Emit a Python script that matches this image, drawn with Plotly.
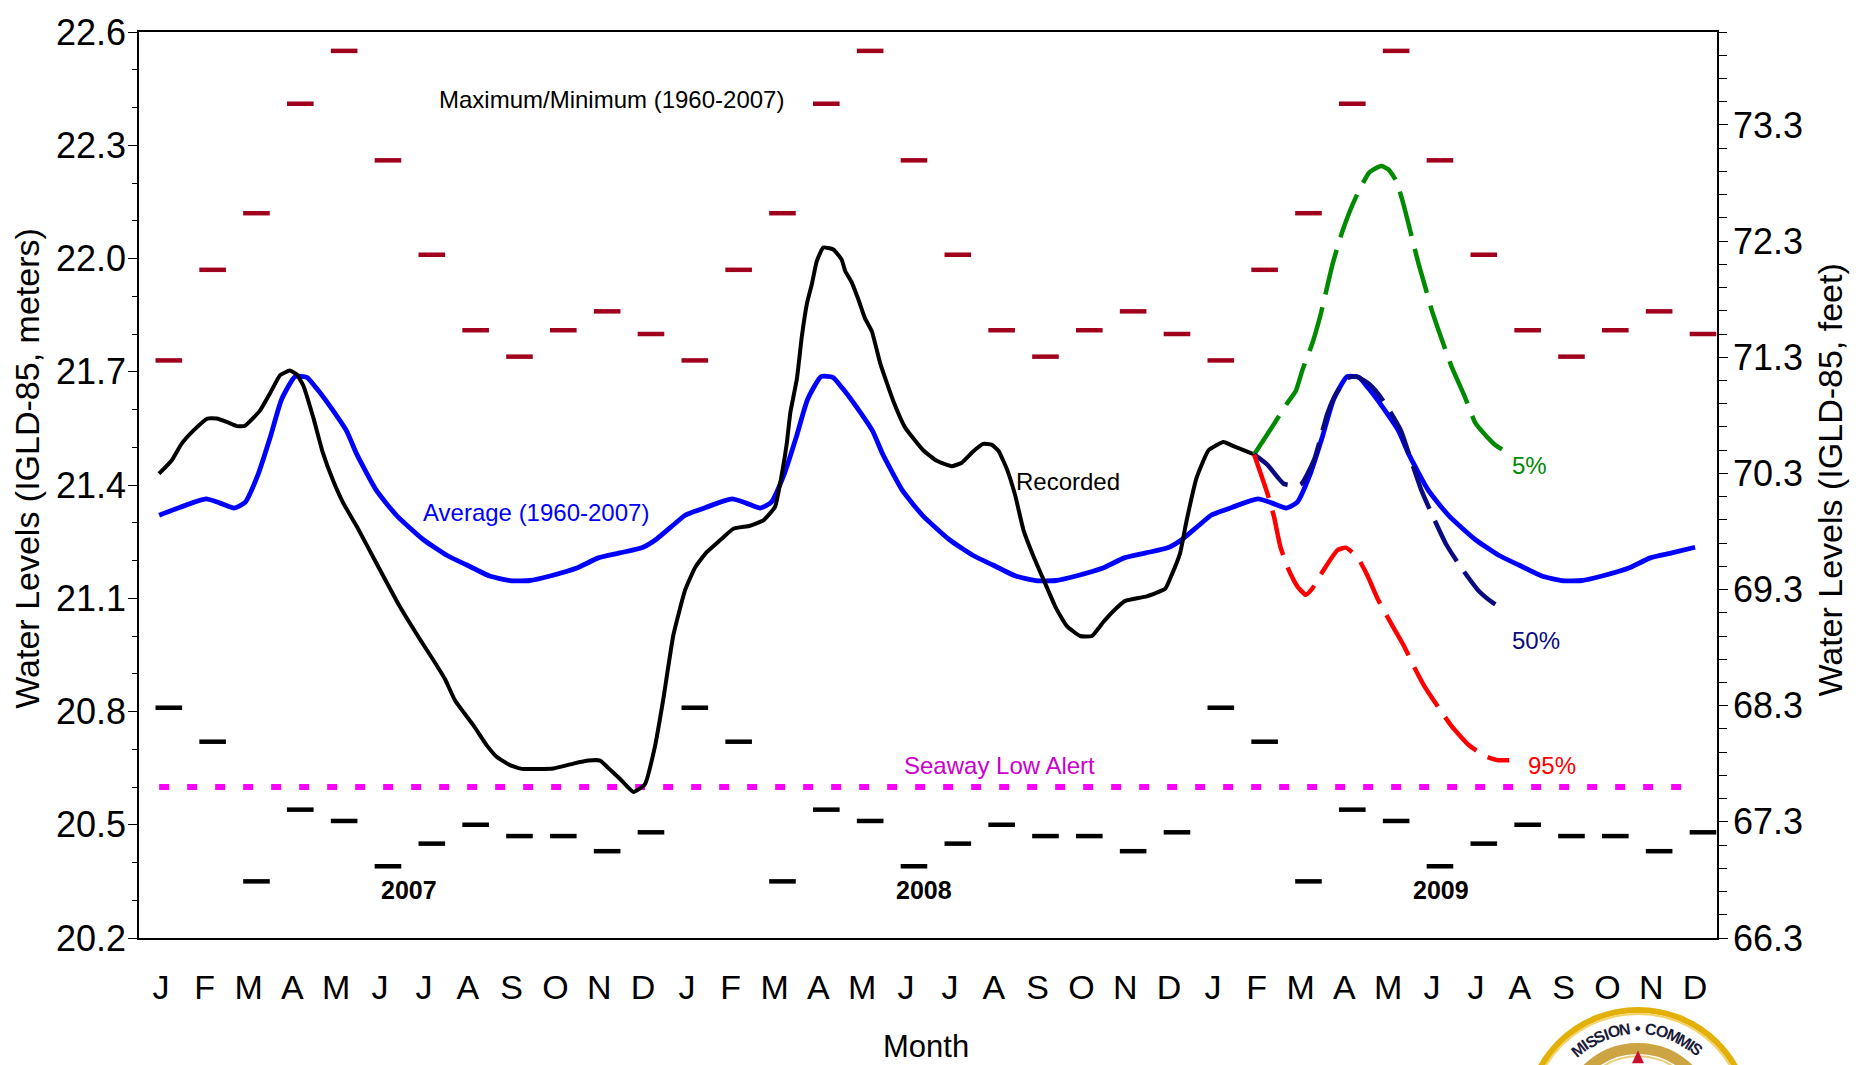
import math
import plotly.graph_objects as go

# ---------------------------------------------------------------------------
# Lake St. Clair / Seaway style water level chart, 2007-2009 (IGLD-85)
# ---------------------------------------------------------------------------

MONTH_LETTERS = ["J", "F", "M", "A", "M", "J", "J", "A", "S", "O", "N", "D"]
YEAR_LABELS = ["2007", "2008", "2009"]
YEAR_LABEL_T = [6.17, 17.9, 29.7]

# Monthly extremes of record 1960-2007 (metres)
MAX_LEVEL = [21.73, 21.97, 22.12, 22.41, 22.55, 22.26, 22.01, 21.81, 21.74, 21.81, 21.86, 21.80]
MIN_LEVEL = [20.81, 20.72, 20.35, 20.54, 20.51, 20.39, 20.45, 20.50, 20.47, 20.47, 20.43, 20.48]

# Long-term average 1960-2007, one annual cycle (time in months from 1 Jan)
AVG_T = [0.46, 0.94, 1.53, 1.85, 2.17, 2.42, 2.72, 2.99, 3.25, 3.56, 3.83, 4.05, 4.36,
         4.74, 4.97, 5.42, 5.88, 6.49, 7.02, 7.48, 8.0, 8.46, 8.92, 9.38, 9.99, 10.48,
         10.97, 11.5, 11.81, 12.19]
AVG_LEVEL = [21.320, 21.341, 21.363, 21.352, 21.339, 21.354, 21.429, 21.525, 21.626,
             21.687, 21.685, 21.656, 21.608, 21.542, 21.481, 21.385, 21.319, 21.255,
             21.214, 21.188, 21.159, 21.147, 21.147, 21.159, 21.180, 21.207, 21.220,
             21.235, 21.257, 21.294]

# Recorded levels, Jan 2007 - Feb 2009 (time in months from 1 Jan 2007)
REC_T = [0.456, 0.745, 0.97, 1.24, 1.56, 1.77, 2.0, 2.23, 2.42, 2.76, 2.99, 3.22, 3.44,
         3.6, 3.75, 3.98, 4.19, 4.43, 4.66, 4.97, 5.42, 5.95, 6.41, 6.71, 6.98, 7.21,
         7.63, 7.93, 8.16, 8.46, 8.73, 9.45, 9.91, 10.25, 10.52, 10.71, 10.97, 11.28,
         11.54, 11.77, 11.96, 12.19, 12.46, 12.69, 12.95, 13.26, 13.56, 13.94, 14.25,
         14.51, 14.67, 14.78, 14.86, 15.01, 15.12, 15.24, 15.35, 15.46, 15.61, 15.84,
         16.03, 16.11, 16.26, 16.41, 16.56, 16.72, 16.91, 17.21, 17.48, 17.89, 18.2,
         18.54, 18.77, 19.04, 19.26, 19.45, 19.61, 19.8, 19.99, 20.18, 20.41, 20.67,
         20.92, 21.17, 21.47, 21.74, 22.0, 22.22, 22.5, 22.99, 23.41, 23.56, 23.75,
         23.9, 24.13, 24.4, 24.74, 24.97, 25.44]
REC_LEVEL = [21.430, 21.465, 21.509, 21.544, 21.576, 21.576, 21.567, 21.556, 21.557,
             21.597, 21.643, 21.691, 21.703, 21.693, 21.663, 21.577, 21.487, 21.411,
             21.352, 21.290, 21.192, 21.078, 20.991, 20.937, 20.886, 20.829, 20.763,
             20.711, 20.680, 20.658, 20.648, 20.649, 20.662, 20.670, 20.670, 20.650,
             20.622, 20.587, 20.607, 20.707, 20.832, 21.002, 21.122, 21.182, 21.222,
             21.254, 21.284, 21.292, 21.307, 21.342, 21.432, 21.512, 21.592, 21.682,
             21.792, 21.882, 21.932, 21.992, 22.029, 22.024, 21.997, 21.967, 21.937,
             21.892, 21.842, 21.807, 21.722, 21.622, 21.552, 21.492, 21.464, 21.450,
             21.459, 21.490, 21.509, 21.507, 21.490, 21.442, 21.372, 21.280, 21.210,
             21.140, 21.074, 21.026, 21.000, 21.000, 21.037, 21.065, 21.093, 21.105,
             21.125, 21.162, 21.219, 21.306, 21.420, 21.492, 21.514, 21.503, 21.481]

# Outlooks from end of Feb 2009 (exceedance probabilities)
P5_T = [25.44, 25.89, 26.19, 26.39, 26.54, 26.77, 26.96, 27.23, 27.46, 27.76, 28.07,
        28.34, 28.49, 28.68, 28.83, 28.99, 29.18, 29.33, 29.49, 29.75, 29.94, 30.25,
        30.48, 30.71, 30.94, 31.13]
P5_LEVEL = [21.481, 21.561, 21.616, 21.649, 21.704, 21.776, 21.853, 21.985, 22.074,
            22.162, 22.228, 22.245, 22.237, 22.206, 22.151, 22.079, 21.991, 21.930,
            21.864, 21.776, 21.715, 21.633, 21.566, 21.533, 21.506, 21.492]

P50_T = [25.44, 25.74, 26.12, 26.5, 26.81, 27.11, 27.27, 27.54, 27.76, 28.03, 28.22,
         28.49, 28.79, 29.03, 29.26, 29.49, 29.83, 30.17, 30.56, 30.9, 31.17]
P50_LEVEL = [21.481, 21.454, 21.403, 21.401, 21.467, 21.589, 21.633, 21.682, 21.688,
             21.671, 21.649, 21.605, 21.544, 21.462, 21.385, 21.324, 21.241, 21.180,
             21.120, 21.087, 21.068]

P95_T = [25.44, 25.58, 25.74, 25.89, 26.04, 26.23, 26.43, 26.62, 26.77, 27.0, 27.34,
         27.53, 27.8, 28.03, 28.26, 28.57, 28.87, 29.1, 29.33, 29.71, 29.94, 30.33,
         30.71, 31.01, 31.26]
P95_LEVEL = [21.481, 21.434, 21.379, 21.318, 21.236, 21.175, 21.131, 21.109, 21.126,
             21.170, 21.227, 21.234, 21.208, 21.159, 21.098, 21.032, 20.971, 20.916,
             20.866, 20.800, 20.762, 20.712, 20.682, 20.671, 20.671]

SEAWAY_ALERT = 20.6
Y_RANGE = [20.2, 22.6]
FT_RANGE = [66.3, 74.1]

FONT = "Liberation Sans, Arial, Helvetica, sans-serif"
MAXMIN_RED = "#A0001C"
GREEN = "#008A00"
NAVY = "#0A0A82"

W, H = 1869, 1065
ML, MR, MT, MB = 139, 152, 19, 127
PW, PH = W - ML - MR, H - MT - MB


def px_to_paper(px, py):
    """Convert a page pixel position into paper coordinates."""
    return (px - ML) / PW, (H - MB - py) / PH


n_years = len(YEAR_LABELS)
n_months = 12 * n_years

# Average curve repeated for every year, stopping at mid-December of the last year
avg_t, avg_v = [], []
for yr in range(n_years):
    for t, v in zip(AVG_T, AVG_LEVEL):
        tt = t + 12 * yr
        if tt <= n_months - 0.5 + 1e-9:
            avg_t.append(tt)
            avg_v.append(v)

# Extremes drawn as short bars in every month of every year
ext_t = [12 * yr + i + 0.68 for yr in range(n_years) for i in range(12)]
max_v = MAX_LEVEL * n_years
min_v = MIN_LEVEL * n_years

fig = go.Figure()

fig.add_trace(go.Scatter(
    x=ext_t, y=max_v, mode="markers", hoverinfo="skip",
    marker=dict(symbol="line-ew", size=19, color=MAXMIN_RED,
                line=dict(color=MAXMIN_RED, width=4.5))))
fig.add_trace(go.Scatter(
    x=ext_t, y=min_v, mode="markers", hoverinfo="skip",
    marker=dict(symbol="line-ew", size=19, color="black",
                line=dict(color="black", width=4.5))))

fig.add_trace(go.Scatter(
    x=[0.46, n_months - 0.5], y=[SEAWAY_ALERT, SEAWAY_ALERT], mode="lines",
    hoverinfo="skip", line=dict(color="#FF00FF", width=6, dash="10px,18px")))

fig.add_trace(go.Scatter(
    x=avg_t, y=avg_v, mode="lines", hoverinfo="skip",
    line=dict(color="#0000FF", width=4.8, shape="spline", smoothing=0.5)))

fig.add_trace(go.Scatter(
    x=REC_T, y=REC_LEVEL, mode="lines", hoverinfo="skip",
    line=dict(color="black", width=4, shape="spline", smoothing=0.4)))

for t, v, col in [(P5_T, P5_LEVEL, GREEN), (P50_T, P50_LEVEL, NAVY),
                  (P95_T, P95_LEVEL, "#FF0000")]:
    fig.add_trace(go.Scatter(
        x=t, y=v, mode="lines", hoverinfo="skip",
        line=dict(color=col, width=4.5, dash="46px,13px", shape="spline", smoothing=0.5)))

# secondary axis in feet carries no marks of its own
fig.add_trace(go.Scatter(x=[None], y=[None], yaxis="y2", hoverinfo="skip"))

annotations = []


def note(text, x, y, color="black", size=24, bold=False):
    annotations.append(dict(
        text=f"<b>{text}</b>" if bold else text, x=x, y=y, xref="x", yref="y",
        showarrow=False, xanchor="center", yanchor="middle",
        font=dict(family=FONT, size=size, color=color)))


note("Maximum/Minimum (1960-2007)", 10.78, 22.42)
note("Average (1960-2007)", 9.06, 21.326, color="#0000FF")
note("Recorded", 21.2, 21.41)
note("Seaway Low Alert", 19.62, 20.657, color="#CC00CC")
note("5%", 31.72, 21.452, color=GREEN)
note("50%", 31.86, 20.988, color=NAVY)
note("95%", 32.24, 20.657, color="#FF0000")
for lbl, t in zip(YEAR_LABELS, YEAR_LABEL_T):
    note(lbl, t, 20.326, size=25, bold=True)

# axis titles
for text, px, py in [("Water Levels (IGLD-85, meters)", 27, 462),
                     ("Water Levels (IGLD-85, feet)", 1830, 474)]:
    ax, ay = px_to_paper(px, py)
    annotations.append(dict(text=text, x=ax, y=ay, xref="paper", yref="paper",
                            showarrow=False, textangle=-90, xanchor="center",
                            yanchor="middle", font=dict(family=FONT, size=34, color="black")))
mx, my = px_to_paper(926, 1048)
annotations.append(dict(text="Month", x=mx, y=my, xref="paper", yref="paper",
                        showarrow=False, xanchor="center", yanchor="middle",
                        font=dict(family=FONT, size=31, color="black")))

# commission seal at the bottom right (only its upper rim is on the page)
SEAL_CX, SEAL_CY, SEAL_R = 1638, 1122, 111
shapes = []


def circle(r, fill, line_color, line_width):
    x0, y0 = px_to_paper(SEAL_CX - r, SEAL_CY + r)
    x1, y1 = px_to_paper(SEAL_CX + r, SEAL_CY - r)
    shapes.append(dict(type="circle", xref="paper", yref="paper", x0=x0, y0=y0,
                       x1=x1, y1=y1, fillcolor=fill,
                       line=dict(color=line_color, width=line_width), layer="above"))


circle(SEAL_R, "white", "#E2B007", 6)
circle(SEAL_R - 4, "rgba(0,0,0,0)", "#F3D36A", 2)
circle(72, "white", "#CDA443", 11)
circle(64, "rgba(0,0,0,0)", "#E9CF7A", 2)

leaf = [(1638, 1052), (1632, 1065), (1644, 1065)]
pts = [px_to_paper(x, y) for x, y in leaf]
path = "M " + " L ".join(f"{x},{y}" for x, y in pts) + " Z"
shapes.append(dict(type="path", xref="paper", yref="paper", path=path,
                   fillcolor="#C8102E", line=dict(width=0), layer="above"))

# lettering around the rim, spaced by approximate bold glyph widths
GLYPH_W = {"C": .722, "O": .778, "M": .833, "I": .278, "S": .667, "N": .722,
           "\u2022": .5, " ": .3}
seal_text = "COMMISSION \u2022 COMMISSION"
SEAL_FONT = 16
R_TXT = 92
adv = [GLYPH_W[c] * SEAL_FONT * 0.92 for c in seal_text]
total = sum(adv)
pos = -total / 2
for ch, a_w in zip(seal_text, adv):
    centre = pos + a_w / 2
    pos += a_w
    if ch == " ":
        continue
    ang = math.degrees(centre / R_TXT)
    a = math.radians(ang)
    px = SEAL_CX + R_TXT * math.sin(a)
    py = SEAL_CY - R_TXT * math.cos(a)
    if py > 1056:
        continue
    ax, ay = px_to_paper(px, py)
    annotations.append(dict(text=f"<b>{ch}</b>", x=ax, y=ay, xref="paper", yref="paper",
                            showarrow=False, textangle=ang, xanchor="center",
                            yanchor="middle",
                            font=dict(family=FONT, size=SEAL_FONT, color="#1B1B3A")))

fig.update_layout(
    width=W, height=H, autosize=False,
    margin=dict(l=ML, r=MR, t=MT, b=MB, pad=0),
    paper_bgcolor="white", plot_bgcolor="white",
    showlegend=False,
    font=dict(family=FONT, color="black"),
    xaxis=dict(
        range=[0, n_months], tickmode="array",
        tickvals=[i + 0.5 for i in range(n_months)],
        ticktext=MONTH_LETTERS * n_years,
        ticks="", showgrid=False, zeroline=False,
        showline=True, linecolor="black", linewidth=1.5, mirror=True,
        tickfont=dict(family=FONT, size=34), ticklabelstandoff=18),
    yaxis=dict(
        range=Y_RANGE, tickmode="linear", tick0=20.2, dtick=0.3, tickformat=".1f",
        ticks="outside", ticklen=9, tickwidth=1.2, tickcolor="black",
        minor=dict(tickmode="linear", tick0=20.2, dtick=0.1, ticks="outside",
                   ticklen=5, tickwidth=1, tickcolor="black"),
        showgrid=False, zeroline=False, showline=True, linecolor="black", linewidth=1.5,
        tickfont=dict(family=FONT, size=36), ticklabelstandoff=-5,
        ticklabeloverflow="allow"),
    yaxis2=dict(
        overlaying="y", side="right", anchor="x",
        range=FT_RANGE,
        tickmode="linear", tick0=66.3, dtick=1, tickformat=".1f",
        ticks="outside", ticklen=9, tickwidth=1.2, tickcolor="black",
        minor=dict(tickmode="linear", tick0=66.3, dtick=0.2, ticks="outside",
                   ticklen=8, tickwidth=1, tickcolor="black"),
        showgrid=False, zeroline=False, showline=True, linecolor="black", linewidth=1.5,
        tickfont=dict(family=FONT, size=36), ticklabelstandoff=-2,
        ticklabeloverflow="allow"),
    annotations=annotations,
    shapes=shapes,
)

fig.write_html("out.html")
